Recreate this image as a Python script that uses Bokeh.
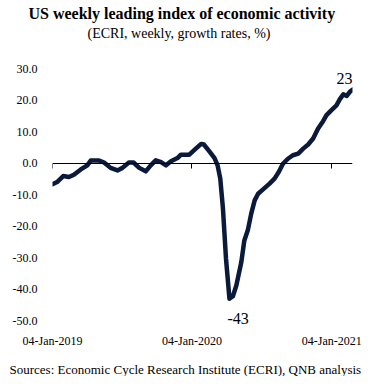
import pandas as pd
from bokeh.plotting import figure
from bokeh.models import (Title, FixedTicker, DatetimeAxis, DatetimeTickFormatter,
                          NumeralTickFormatter, Range1d, Label)
from bokeh.embed import file_html
from bokeh.resources import INLINE

dates = ["2019-01-04", "2019-01-16", "2019-02-01", "2019-02-16", "2019-03-01", "2019-03-19",
         "2019-04-05", "2019-04-14", "2019-05-06", "2019-05-19", "2019-06-05", "2019-06-23",
         "2019-07-06", "2019-07-23", "2019-08-04", "2019-08-19", "2019-09-05", "2019-09-18",
         "2019-10-01", "2019-10-15", "2019-10-28", "2019-11-10", "2019-11-27", "2019-12-06",
         "2019-12-28", "2020-01-14", "2020-01-28", "2020-02-04", "2020-02-18", "2020-03-03",
         "2020-03-11", "2020-03-18", "2020-03-25", "2020-04-02", "2020-04-11", "2020-04-20",
         "2020-04-29", "2020-05-12", "2020-05-20", "2020-05-29", "2020-06-07", "2020-06-16",
         "2020-06-25", "2020-07-08", "2020-07-25", "2020-08-07", "2020-08-18", "2020-08-29",
         "2020-09-11", "2020-09-24", "2020-10-08", "2020-10-21", "2020-11-03", "2020-11-16",
         "2020-11-29", "2020-12-12", "2020-12-21", "2021-01-03", "2021-01-16", "2021-01-25",
         "2021-02-03", "2021-02-12", "2021-02-20", "2021-02-27"]
growth = [-6.7, -6.0, -4.1, -4.4, -3.7, -2.0,
          -0.7, 0.8, 0.8, 0.2, -1.5, -2.3,
          -1.5, 0.2, 0.2, -1.5, -2.6, -0.7,
          0.9, 0.3, -0.7, 0.6, 1.6, 2.7,
          2.7, 4.6, 6.1, 5.9, 3.8, 1.6,
          -0.7, -4.9, -14.4, -30.3, -43.0, -42.2,
          -38.8, -31.4, -24.5, -21.3, -16.0, -11.8,
          -9.7, -8.3, -6.5, -4.9, -2.8, -0.2,
          1.4, 2.5, 3.0, 4.6, 5.9, 7.8,
          11.0, 13.3, 15.2, 16.8, 18.3, 20.3,
          21.8, 21.3, 22.6, 23.3]
x_ticks = ["2019-01-04", "2020-01-04", "2021-01-04"]
y_ticks = [30, 20, 10, 0, -10, -20, -30, -40, -50]
title_text = "US weekly leading index of economic activity"
subtitle_text = "(ECRI, weekly, growth rates, %)"
source_text = "Sources: Economic Cycle Research Institute (ECRI), QNB analysis"
min_label = "-43"
last_label = "23"

x = pd.to_datetime(dates)
tick_ms = [pd.Timestamp(d).value // 10**6 for d in x_ticks]

FONT = "Liberation Serif"
NAVY = "#0b1a3a"

p = figure(frame_width=300, frame_height=265, x_axis_type="datetime", output_backend="svg",
           toolbar_location=None, title=None,
           x_range=Range1d(x[0], x[-1]), y_range=Range1d(-54, 30),
           min_border_left=52, min_border_right=15, min_border_top=0, min_border_bottom=0)
p.outline_line_color = None
p.grid.grid_line_color = None
p.background_fill_color = "white"
p.border_fill_color = "white"

fmt = DatetimeTickFormatter(days="%d-%b-%Y", months="%d-%b-%Y", years="%d-%b-%Y")

# titles (spacer first: closest to the frame)
spacer = Title(text=" ", text_font_size="13px", standoff=11)
p.add_layout(spacer, "above")
sub = Title(text=subtitle_text, align="left", offset=35, text_font=FONT,
            text_font_size="14px", text_font_style="normal", text_color="#000000", standoff=0)
p.add_layout(sub, "above")
main = Title(text=title_text, align="left", offset=-24, text_font=FONT,
             text_font_size="16px", text_font_style="bold", text_color="#000000", standoff=4)
p.add_layout(main, "above")

# y axis: labels only
p.yaxis.ticker = FixedTicker(ticks=y_ticks)
p.yaxis.formatter = NumeralTickFormatter(format="0.0")
p.yaxis.axis_line_color = None
p.yaxis.major_tick_line_color = None
p.yaxis.minor_tick_line_color = None
p.yaxis.major_tick_out = 0
p.yaxis.major_tick_in = 0
p.yaxis.major_label_standoff = 15
p.yaxis.major_label_text_font = FONT
p.yaxis.major_label_text_font_size = "12px"
p.yaxis.major_label_text_color = "#000000"

# bottom x axis: labels only
p.xaxis.ticker = FixedTicker(ticks=tick_ms)
p.xaxis.formatter = fmt
p.xaxis.axis_line_color = None
p.xaxis.major_tick_line_color = None
p.xaxis.minor_tick_line_color = None
p.xaxis.major_tick_out = 0
p.xaxis.major_tick_in = 0
p.xaxis.major_label_standoff = 0
p.xaxis.major_label_text_font = FONT
p.xaxis.major_label_text_font_size = "12px"
p.xaxis.major_label_text_color = "#000000"

# zero axis line with downward ticks
zero_axis = DatetimeAxis(fixed_location=0, ticker=FixedTicker(ticks=tick_ms), formatter=fmt,
                         axis_line_color="#000000", axis_line_width=1,
                         major_tick_line_color="#000000", major_tick_out=5, major_tick_in=0,
                         minor_tick_line_color=None, major_label_text_font_size="0px",
                         major_label_text_alpha=0, major_label_standoff=0)
p.add_layout(zero_axis, "below")

spacer_b = Title(text=" ", text_font_size="7px", standoff=0)
p.add_layout(spacer_b, "below")
src = Title(text=source_text, align="left", offset=-43, text_font=FONT,
            text_font_size="13px", text_font_style="normal", text_color="#000000", standoff=0)
p.add_layout(src, "below")

p.line(x, growth, line_color=NAVY, line_width=4.5, line_join="round", line_cap="round")

imin = growth.index(min(growth))
p.add_layout(Label(x=x[imin], y=growth[imin], text=min_label, text_font=FONT,
                   text_font_size="16px", text_color="#000000", y_offset=-14,
                   x_offset=-2, text_align="left", text_baseline="top"))
p.add_layout(Label(x=x[-1], y=growth[-1], text=last_label, text_font=FONT,
                   text_font_size="16px", text_color="#000000", y_offset=6,
                   x_offset=0, text_align="right", text_baseline="bottom"))

open("out.html", "w").write(file_html(p, INLINE))
